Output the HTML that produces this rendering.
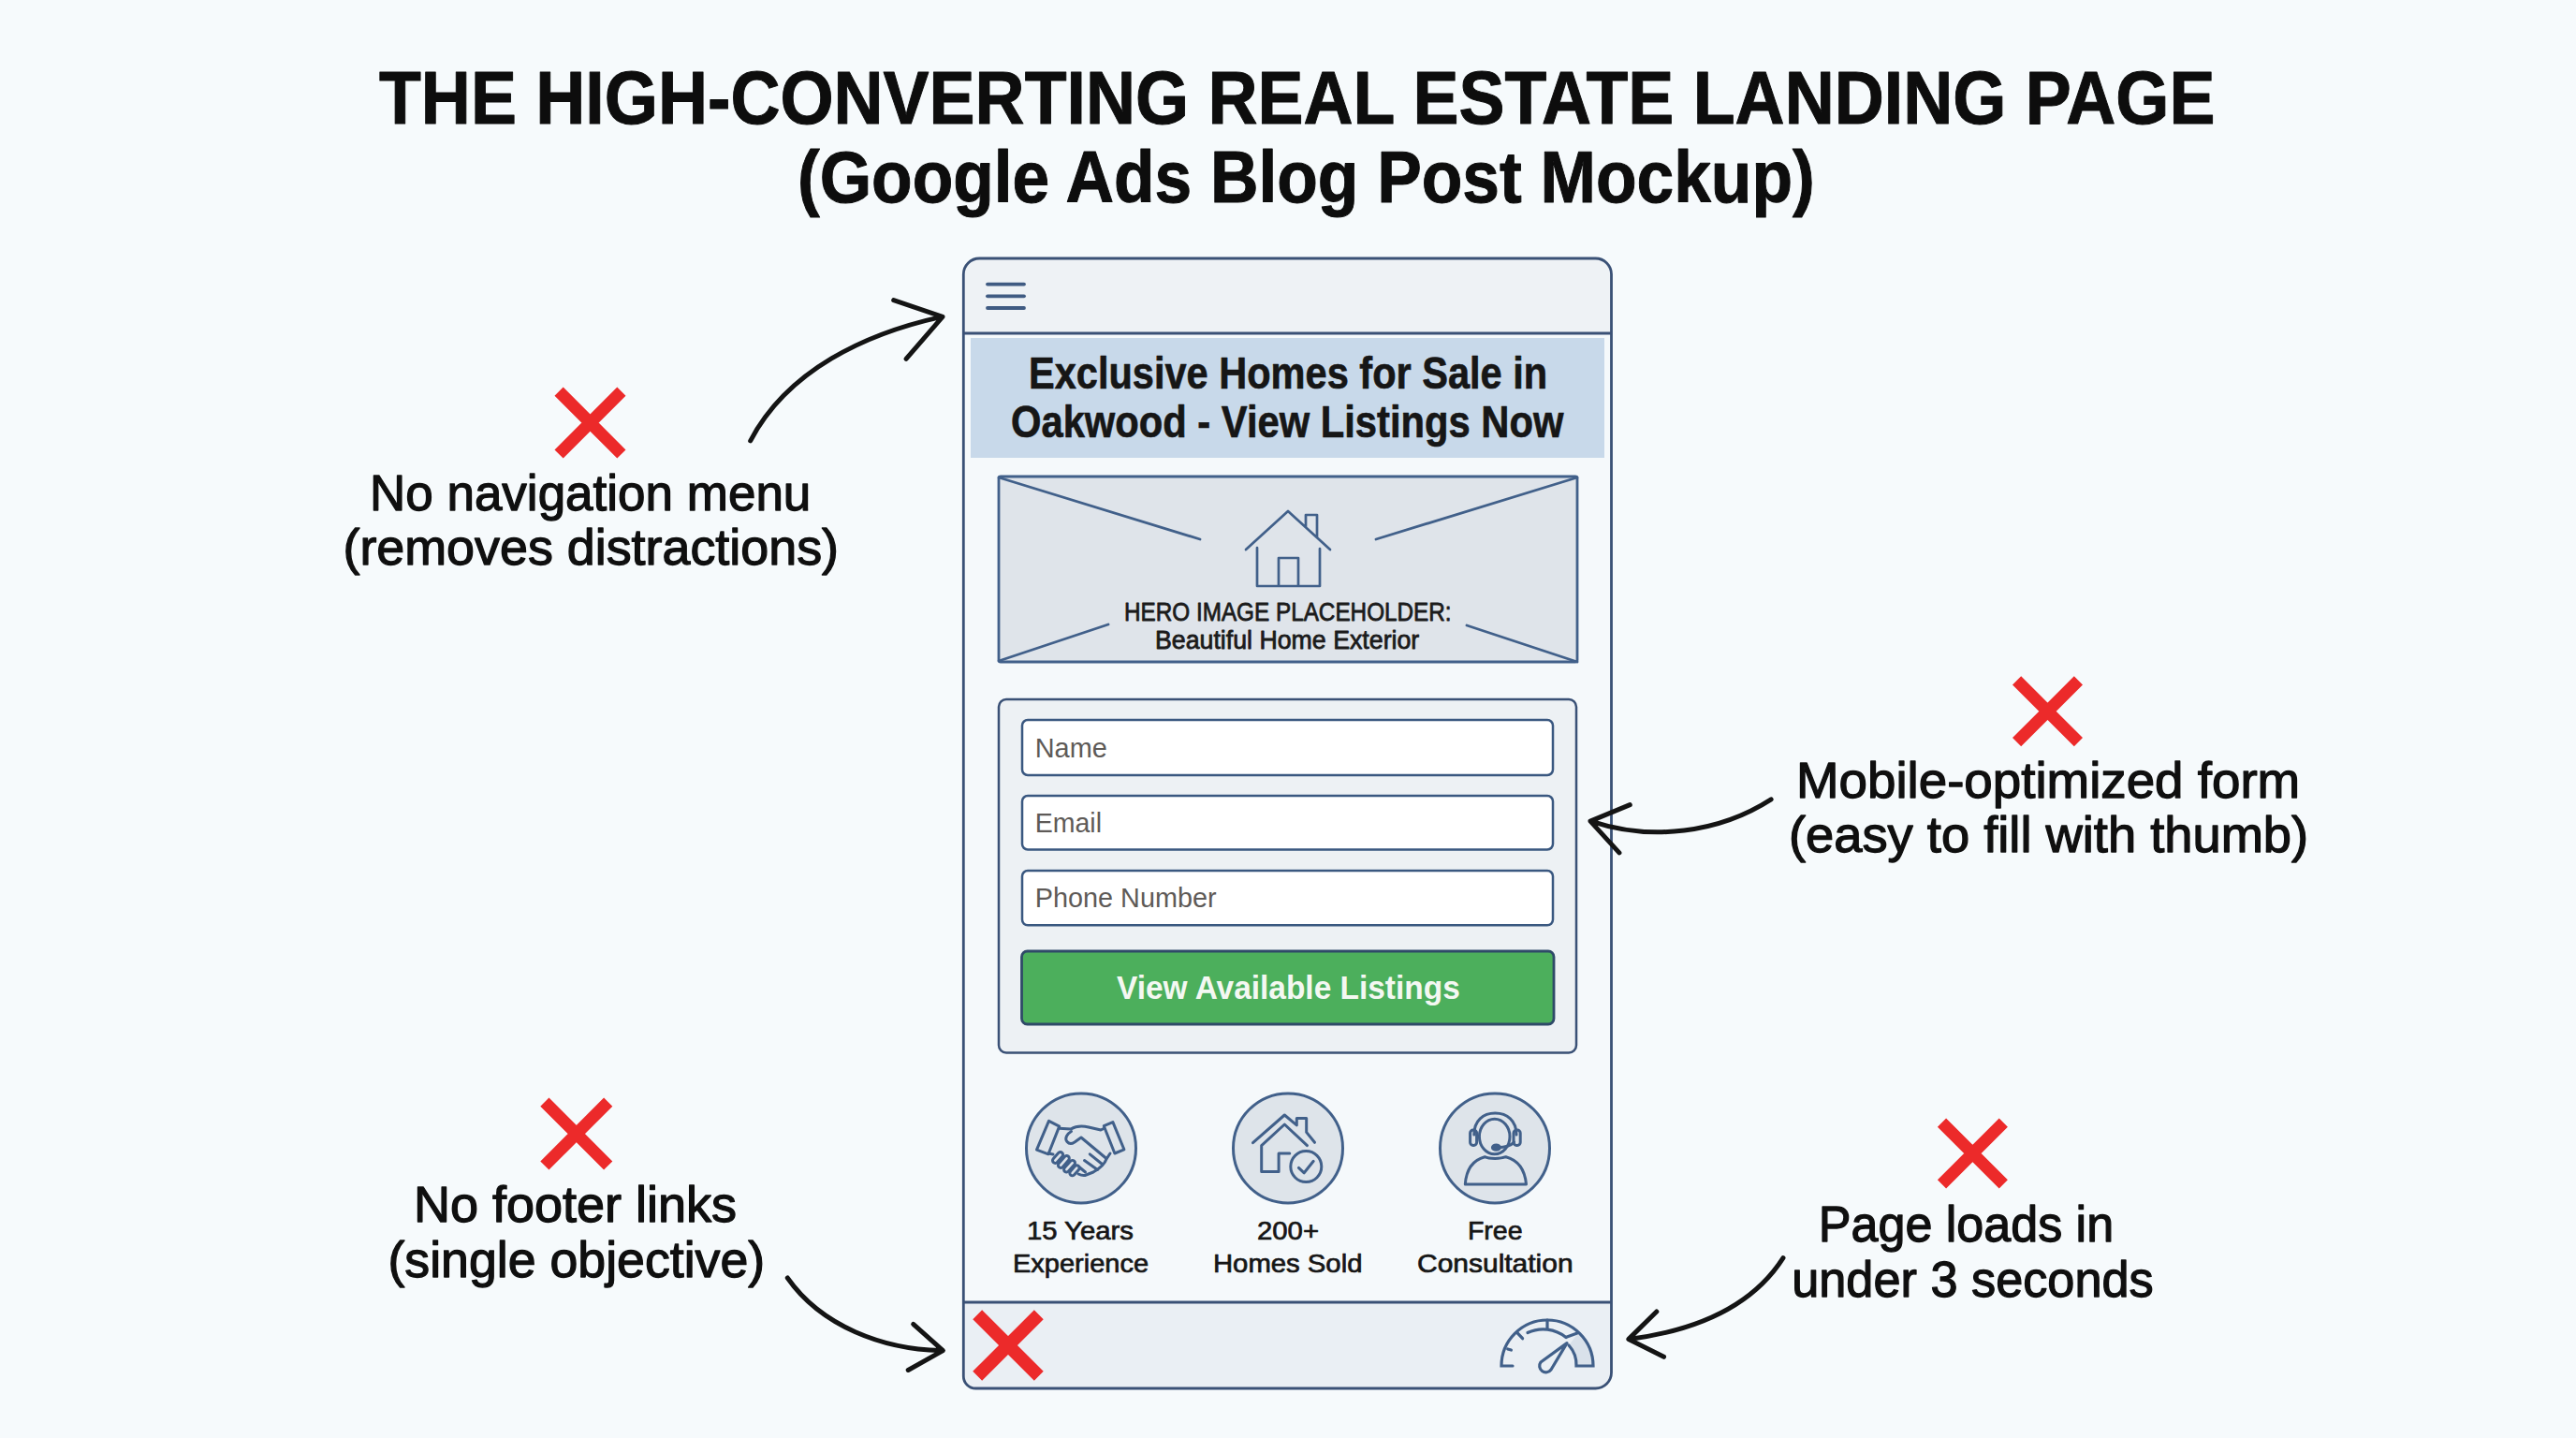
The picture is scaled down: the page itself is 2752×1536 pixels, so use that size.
<!DOCTYPE html>
<html><head><meta charset="utf-8"><style>
html,body{margin:0;padding:0;background:#f6fafc;}
body{width:2752px;height:1536px;overflow:hidden;}
svg{display:block;}
text{font-family:"Liberation Sans",sans-serif;}
</style></head><body>
<svg width="2752" height="1536" viewBox="0 0 2752 1536">
<rect width="2752" height="1536" fill="#f6fafc"/>
<clipPath id="ph"><path d="M1046.3 276 L1704.5 276 A17 17 0 0 1 1721.5 293 L1721.5 1466 A17 17 0 0 1 1704.5 1483 L1042.3 1483 A13 13 0 0 1 1029.3 1470 L1029.3 293 A17 17 0 0 1 1046.3 276 Z"/></clipPath>
<g clip-path="url(#ph)"><rect x="1029.3" y="276" width="692.2" height="1207" fill="#f5f9fb"/><rect x="1029.3" y="276" width="692.2" height="80" fill="#eef2f5"/><rect x="1029.3" y="1391" width="692.2" height="92" fill="#eaeff4"/></g>
<path d="M1046.3 276 L1704.5 276 A17 17 0 0 1 1721.5 293 L1721.5 1466 A17 17 0 0 1 1704.5 1483 L1042.3 1483 A13 13 0 0 1 1029.3 1470 L1029.3 293 A17 17 0 0 1 1046.3 276 Z" fill="none" stroke="#3a5176" stroke-width="2.8"/>
<line x1="1029.3" y1="356" x2="1721.5" y2="356" stroke="#3a5176" stroke-width="2.8"/>
<line x1="1029.3" y1="1391" x2="1721.5" y2="1391" stroke="#3a5176" stroke-width="2.8"/>
<line x1="1055" y1="303.6" x2="1094" y2="303.6" stroke="#3f5b82" stroke-width="3.8" stroke-linecap="round"/>
<line x1="1055" y1="316.3" x2="1094" y2="316.3" stroke="#3f5b82" stroke-width="3.8" stroke-linecap="round"/>
<line x1="1055" y1="329" x2="1094" y2="329" stroke="#3f5b82" stroke-width="3.8" stroke-linecap="round"/>
<rect x="1037" y="361" width="677" height="128" fill="#c8d9ea"/>
<rect x="1067" y="509" width="618" height="198" rx="2" fill="#dfe4ea" stroke="#41608a" stroke-width="2.8"/>
<path d="M1067 510 L1282 576 M1067 706 L1184 667 M1685 510 L1470 576 M1685 707 L1567 668" stroke="#41608a" stroke-width="2.8" stroke-linecap="round" fill="none"/>
<path d="M1331 587 L1376 546 L1421 587 M1395 563 L1395 550 L1407 550 L1407 574 M1343 585 L1343 626 L1410 626 L1410 586 M1366 626 L1366 596 L1387 596 L1387 626" stroke="#41608a" stroke-width="2.7" stroke-linecap="round" stroke-linejoin="round" fill="none"/>
<rect x="1067" y="747" width="617" height="377.5" rx="8" fill="#edf1f4" stroke="#3a5176" stroke-width="2.5"/>
<rect x="1092" y="769" width="567" height="59" rx="6" fill="#ffffff" stroke="#3a5880" stroke-width="2.5"/>
<rect x="1092" y="850" width="567" height="57.5" rx="6" fill="#ffffff" stroke="#3a5880" stroke-width="2.5"/>
<rect x="1092" y="930" width="567" height="58.299999999999955" rx="6" fill="#ffffff" stroke="#3a5880" stroke-width="2.5"/>
<rect x="1091.5" y="1016" width="568.5" height="78" rx="6" fill="#4caf5c" stroke="#2f4a68" stroke-width="2.8"/>
<circle cx="1155" cy="1226.4" r="58.5" fill="#dee4ea" stroke="#41608a" stroke-width="3"/>
<circle cx="1376" cy="1226.4" r="58.5" fill="#dee4ea" stroke="#41608a" stroke-width="3"/>
<circle cx="1597" cy="1226.4" r="58.5" fill="#dee4ea" stroke="#41608a" stroke-width="3"/>
<g transform="translate(1095,1166)" stroke="#41608a" stroke-width="3" fill="none" stroke-linecap="round" stroke-linejoin="round"><path d="M25.5 31.3 L36.7 37.1 L25 66.8 L12.5 62.1 Z"/><path d="M84.3 36.7 L93.9 32.6 L105.9 61.8 L95.9 66 Z"/><path d="M36.7 39.3 L49 40 C54 37 62 36.5 68 38 L81 41 L84 39.5"/><path d="M49.5 42.5 C45 45 42 50 45 53.5 C47 56 50 56 53 54 L60 49 L87 71.5"/><path d="M91 66 L87 72 C85 78 80 82 73 86 L64 89.5 C61 90 59 89 57 88"/><path d="M69.3 66.8 L82.5 77.5 M63.5 73.5 L77.5 83.5 M58.5 81 L64.5 86"/><path d="M25 66 L30 67"/><path d="M32.3 73.6 L37.8 67.4" stroke-width="8.6"/><path d="M38.2 78.6 L44.5 71.3" stroke-width="8.6"/><path d="M44.4 83.2 L50.7 76.2" stroke-width="8.6"/><path d="M50.6 87.0 L55.3 81.6" stroke-width="8.6"/><path d="M32.3 73.6 L37.8 67.4" stroke="#dee4ea" stroke-width="2.6"/><path d="M38.2 78.6 L44.5 71.3" stroke="#dee4ea" stroke-width="2.6"/><path d="M44.4 83.2 L50.7 76.2" stroke="#dee4ea" stroke-width="2.6"/><path d="M50.6 87.0 L55.3 81.6" stroke="#dee4ea" stroke-width="2.6"/></g>
<g transform="translate(1316,1166)" stroke="#41608a" stroke-width="3" fill="none" stroke-linecap="round" stroke-linejoin="round" stroke-width="3.3"><path d="M22.5 54.7 L56.3 25 L69.3 35.9 L69.3 28.4 L79.7 28.4 L79.7 43.4 L88.5 54.3"/><path d="M80.5 57.6 L56.3 35 L31.7 57.6 L31.7 85.6 L50.1 85.6 L50.1 65.9 L61.8 65.9"/><circle cx="79.3" cy="80.1" r="16.5"/><path d="M71.4 81.4 L77.2 86.8 L87.2 74.3"/></g>
<g transform="translate(1537,1166)" stroke="#41608a" stroke-width="3" fill="none" stroke-linecap="round" stroke-linejoin="round" stroke-width="3.2"><ellipse cx="59.7" cy="48" rx="16.3" ry="18.8"/><path d="M37.8 46 C37.8 31 47.5 23 60.3 23 C73 23 83 31 83 46"/><rect x="33.6" y="41" width="7" height="16.5" rx="3.2"/><rect x="80" y="41" width="7.2" height="16.5" rx="3.2"/><path d="M80.5 54 C77 58 72 59.5 63 59.7"/><ellipse cx="61.4" cy="59.7" rx="4" ry="2.6" fill="#41608a"/><path d="M49.2 69.7 C54 72 66 72 71.8 69.7 C84 73 92 83 93.5 98.9 L28.3 98.9 C29.5 83 37 73 49.2 69.7 Z"/></g>
<path d="M1044.1997949370668 1404.1997949370668 L1109.8002050629332 1469.8002050629332 M1109.8002050629332 1404.1997949370668 L1044.1997949370668 1469.8002050629332" stroke="#ec2a2a" stroke-width="14" stroke-linecap="butt" fill="none"/>
<path d="M1684 1459 A31 31 0 0 0 1676 1437 L1686 1424 A49 49 0 0 1 1702 1459 Z" fill="#d9e1ea"/>
<g stroke="#41608a" stroke-width="3.2" fill="none" stroke-linecap="round"><path d="M1616 1459 L1604 1459 A49 49 0 0 1 1702 1459 L1684 1459 A31 31 0 0 0 1676 1437"/><path d="M1653 1410 L1653 1419 M1620.7 1423.3 L1626.6 1429.7 M1610.7 1441 L1614.4 1442"/><path d="M1632 1423.5 A39 39 0 0 1 1673 1428.5"/><path d="M1674 1428 L1685 1424"/></g>
<path d="M1674 1434.6 L1657 1463 A6.5 6.5 0 1 1 1646 1455 Z" fill="none" stroke="#41608a" stroke-width="3.2" stroke-linejoin="round"/>
<path d="M597.0962381558478 418.1962381558478 L663.9037618441522 485.0037618441522 M663.9037618441522 418.1962381558478 L597.0962381558478 485.0037618441522" stroke="#ec2a2a" stroke-width="13" stroke-linecap="butt" fill="none"/>
<path d="M581.8962381558478 1177.1962381558478 L649.7037618441522 1245.003761844152 M649.7037618441522 1177.1962381558478 L581.8962381558478 1245.003761844152" stroke="#ec2a2a" stroke-width="13" stroke-linecap="butt" fill="none"/>
<path d="M2154.596238155848 726.8962381558478 L2220.403761844152 792.7037618441522 M2220.403761844152 726.8962381558478 L2154.596238155848 792.7037618441522" stroke="#ec2a2a" stroke-width="13" stroke-linecap="butt" fill="none"/>
<path d="M2074.496238155848 1199.096238155848 L2140.303761844152 1264.903761844152 M2140.303761844152 1199.096238155848 L2074.496238155848 1264.903761844152" stroke="#ec2a2a" stroke-width="13" stroke-linecap="butt" fill="none"/>
<path stroke="#141414" stroke-width="5" fill="none" stroke-linecap="round" stroke-linejoin="round" d="M801.7 470.8 C841.6 395.1 925.0 356.3 1005.0 338.6 M954.7 320.6 L1007 338.4 L968 383.4"/>
<path stroke="#141414" stroke-width="5" fill="none" stroke-linecap="round" stroke-linejoin="round" stroke-width="4.8" d="M841.3 1365.0 C877.7 1416.9 943.6 1441.1 1005.0 1442.6 M975.7 1414.3 L1007.4 1442.6 L970.2 1463.5"/>
<path stroke="#141414" stroke-width="5" fill="none" stroke-linecap="round" stroke-linejoin="round" stroke-width="4.6" d="M1892.1 853.9 C1836.4 889.8 1763.9 898.4 1701.0 877.6 M1741.3 859.6 L1699 877.1 L1729.9 910.9"/>
<path stroke="#141414" stroke-width="5" fill="none" stroke-linecap="round" stroke-linejoin="round" stroke-width="4.6" d="M1905.0 1343.6 C1869.4 1399.4 1804.4 1421.9 1742.0 1430.2 M1769.8 1401 L1739.9 1430.4 L1777.5 1449.3"/>
<g font-family="Liberation Sans, sans-serif">
<text id="t_title1" transform="translate(405.0,132) scale(0.9126,1)" font-size="80.5" font-weight="bold" fill="#0d0d0d" stroke="#0d0d0d" stroke-width="1.0" stroke-linejoin="round">THE HIGH-CONVERTING REAL ESTATE LANDING PAGE</text>
<text id="t_title2" transform="translate(851.9,215.5) scale(0.90861,1)" font-size="78.5" font-weight="bold" fill="#0d0d0d" stroke="#0d0d0d" stroke-width="1.0" stroke-linejoin="round">(Google Ads Blog Post Mockup)</text>
<text id="t_head1" transform="translate(1098.99,415) scale(0.86026,1)" font-size="48.3" font-weight="bold" fill="#161616" stroke="#161616" stroke-width="0.7" stroke-linejoin="round">Exclusive Homes for Sale in</text>
<text id="t_head2" transform="translate(1080.0,467) scale(0.86406,1)" font-size="48.3" font-weight="bold" fill="#161616" stroke="#161616" stroke-width="0.7" stroke-linejoin="round">Oakwood - View Listings Now</text>
<text id="t_hero1" transform="translate(1200.98,662.5) scale(0.88392,1)" font-size="27.5" font-weight="normal" fill="#1b1b1b" stroke="#1b1b1b" stroke-width="0.8" stroke-linejoin="round">HERO IMAGE PLACEHOLDER:</text>
<text id="t_hero2" transform="translate(1233.99,693) scale(0.97245,1)" font-size="27.5" font-weight="normal" fill="#1b1b1b" stroke="#1b1b1b" stroke-width="0.8" stroke-linejoin="round">Beautiful Home Exterior</text>
<text id="t_name" transform="translate(1105.72,809) scale(0.96387,1)" font-size="30" font-weight="normal" fill="#5e5a57">Name</text>
<text id="t_email" transform="translate(1105.72,889) scale(0.95096,1)" font-size="30" font-weight="normal" fill="#5e5a57">Email</text>
<text id="t_phone" transform="translate(1105.76,969.2) scale(0.96105,1)" font-size="30" font-weight="normal" fill="#5e5a57">Phone Number</text>
<text id="t_btn" transform="translate(1193.0,1067) scale(0.96704,1)" font-size="34.6" font-weight="bold" fill="#f4f8f2">View Available Listings</text>
<text id="t_f1a" transform="translate(1096.94,1324.4) scale(1.04659,1)" font-size="28" font-weight="normal" fill="#161616" stroke="#161616" stroke-width="0.7" stroke-linejoin="round">15 Years</text>
<text id="t_f1b" transform="translate(1081.96,1359.3) scale(1.03619,1)" font-size="28" font-weight="normal" fill="#161616" stroke="#161616" stroke-width="0.7" stroke-linejoin="round">Experience</text>
<text id="t_f2a" transform="translate(1342.97,1324.4) scale(1.04867,1)" font-size="28" font-weight="normal" fill="#161616" stroke="#161616" stroke-width="0.7" stroke-linejoin="round">200+</text>
<text id="t_f2b" transform="translate(1295.95,1358.8) scale(1.04643,1)" font-size="28" font-weight="normal" fill="#161616" stroke="#161616" stroke-width="0.7" stroke-linejoin="round">Homes Sold</text>
<text id="t_f3a" transform="translate(1567.89,1324.4) scale(1.02015,1)" font-size="28" font-weight="normal" fill="#161616" stroke="#161616" stroke-width="0.7" stroke-linejoin="round">Free</text>
<text id="t_f3b" transform="translate(1513.98,1358.8) scale(1.07089,1)" font-size="28" font-weight="normal" fill="#161616" stroke="#161616" stroke-width="0.7" stroke-linejoin="round">Consultation</text>
<text id="t_a1a" transform="translate(394.94,545) scale(0.98151,1)" font-size="54" font-weight="normal" fill="#0f0f0f" stroke="#0f0f0f" stroke-width="1.3" stroke-linejoin="round">No navigation menu</text>
<text id="t_a1b" transform="translate(366.47,602.5) scale(0.99732,1)" font-size="54" font-weight="normal" fill="#0f0f0f" stroke="#0f0f0f" stroke-width="1.3" stroke-linejoin="round">(removes distractions)</text>
<text id="t_a2a" transform="translate(441.94,1304.7) scale(1.00021,1)" font-size="54" font-weight="normal" fill="#0f0f0f" stroke="#0f0f0f" stroke-width="1.3" stroke-linejoin="round">No footer links</text>
<text id="t_a2b" transform="translate(414.46,1363.5) scale(0.99402,1)" font-size="54" font-weight="normal" fill="#0f0f0f" stroke="#0f0f0f" stroke-width="1.3" stroke-linejoin="round">(single objective)</text>
<text id="t_a3a" transform="translate(1918.95,852.4) scale(1.01336,1)" font-size="54" font-weight="normal" fill="#0f0f0f" stroke="#0f0f0f" stroke-width="1.3" stroke-linejoin="round">Mobile-optimized form</text>
<text id="t_a3b" transform="translate(1910.97,910) scale(1.00559,1)" font-size="54" font-weight="normal" fill="#0f0f0f" stroke="#0f0f0f" stroke-width="1.3" stroke-linejoin="round">(easy to fill with thumb)</text>
<text id="t_a4a" transform="translate(1942.83,1325.6) scale(0.96372,1)" font-size="54" font-weight="normal" fill="#0f0f0f" stroke="#0f0f0f" stroke-width="1.3" stroke-linejoin="round">Page loads in</text>
<text id="t_a4b" transform="translate(1914.19,1385) scale(0.9683,1)" font-size="54" font-weight="normal" fill="#0f0f0f" stroke="#0f0f0f" stroke-width="1.3" stroke-linejoin="round">under 3 seconds</text>
</g>
</svg>
</body></html>
